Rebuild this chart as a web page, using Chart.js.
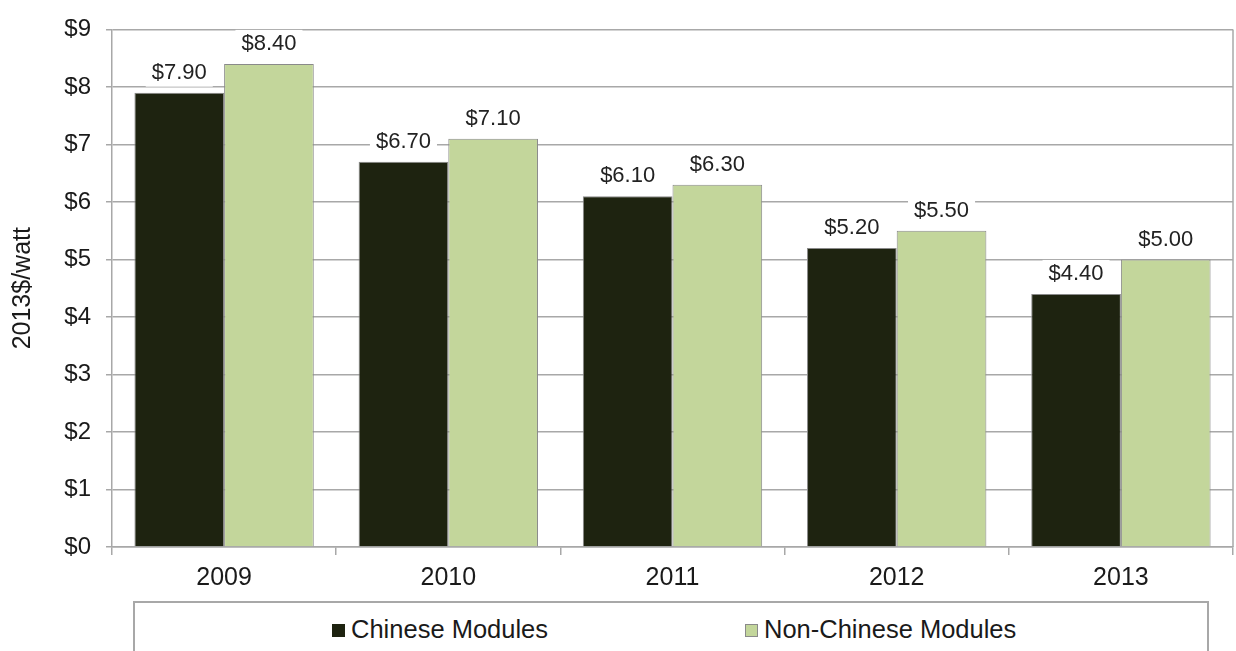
<!DOCTYPE html>
<html>
<head>
    <title>Module Prices</title>
    <script src="https://cdn.jsdelivr.net/npm/chart.js"></script>
    <style>
        body { margin: 0; background: #fff; font-family: 'Liberation Sans', Arial, sans-serif; }
        .wrap { position: relative; width: 1236px; height: 651px; overflow: hidden; }
        .legend {
            position: absolute;
            left: 133px; top: 601px;
            width: 1072px; height: 70px;
            border: 2px solid #a8a8a8;
            background: #fff;
        }
        .legend-item { position: absolute; top: 12px; font-size: 25.5px; color: #1a1a1a; white-space: nowrap; }
        .legend-item .swatch {
            display: inline-block; width: 13px; height: 13px;
            margin-right: 6px; vertical-align: 1px;
            box-sizing: border-box; border: 1px solid #8a8a8a;
        }
    </style>
</head>
<body>
    <div class="wrap">
        <canvas id="priceChart" width="1236" height="651"></canvas>
        <div class="legend" id="legend"></div>
    </div>

    <script>
        // Module prices by year (2013 dollars per watt)
        const years = ['2009', '2010', '2011', '2012', '2013'];
        const chineseModules = [7.90, 6.70, 6.10, 5.20, 4.40];
        const nonChineseModules = [8.40, 7.10, 6.30, 5.50, 5.00];
        const seriesNames = ['Chinese Modules', 'Non-Chinese Modules'];
        const seriesColors = ['#1e2310', '#c3d69b'];

        const FONT = "'Liberation Sans', Arial, sans-serif";
        const GRID = '#a8a8a8';

        // value labels on white boxes above each bar
        const barLabels = {
            id: 'barLabels',
            afterDatasetsDraw(chart) {
                const ctx = chart.ctx;
                ctx.save();
                ctx.font = '22px ' + FONT;
                ctx.textAlign = 'center';
                ctx.textBaseline = 'middle';
                chart.data.datasets.forEach((ds, i) => {
                    chart.getDatasetMeta(i).data.forEach((bar, j) => {
                        const txt = '$' + ds.data[j].toFixed(2);
                        const w = ctx.measureText(txt).width;
                        const cy = bar.y - 20;
                        ctx.fillStyle = '#fff';
                        ctx.fillRect(bar.x - w / 2 - 6, cy - 14, w + 12, 28);
                        ctx.fillStyle = '#222';
                        ctx.fillText(txt, bar.x, cy);
                    });
                });
                ctx.restore();
            }
        };

        // right-hand frame line of the plot area
        const rightFrame = {
            id: 'rightFrame',
            beforeDatasetsDraw(chart) {
                const { ctx, chartArea } = chart;
                ctx.save();
                ctx.strokeStyle = GRID;
                ctx.lineWidth = 1.5;
                ctx.beginPath();
                ctx.moveTo(chartArea.right, chartArea.top);
                ctx.lineTo(chartArea.right, chartArea.bottom);
                ctx.stroke();
                ctx.restore();
            }
        };

        const chart = new Chart(document.getElementById('priceChart'), {
            type: 'bar',
            data: {
                labels: years,
                datasets: [
                    { label: seriesNames[0], data: chineseModules, backgroundColor: seriesColors[0] },
                    { label: seriesNames[1], data: nonChineseModules, backgroundColor: seriesColors[1] }
                ]
            },
            options: {
                responsive: false,
                animation: false,
                layout: { padding: { top: 20, right: 3, left: 0, bottom: 0 } },
                datasets: {
                    bar: {
                        categoryPercentage: 0.8,
                        barPercentage: 1.0,
                        borderWidth: 1,
                        borderColor: '#8a8a8a'
                    }
                },
                plugins: {
                    legend: { display: false },
                    tooltip: { enabled: false }
                },
                scales: {
                    x: {
                        grid: { display: true, drawOnChartArea: false, color: GRID, lineWidth: 1.5, tickLength: 8 },
                        border: { color: GRID, width: 1.5 },
                        ticks: { color: '#1a1a1a', font: { family: FONT, size: 25 }, padding: 8 },
                        afterFit(scale) { scale.height = 104; }
                    },
                    y: {
                        min: 0,
                        max: 9,
                        grid: { color: GRID, lineWidth: 1.5, tickLength: 6 },
                        border: { color: GRID, width: 1.5 },
                        ticks: {
                            stepSize: 1,
                            color: '#1a1a1a',
                            font: { family: FONT, size: 24 },
                            padding: 15,
                            callback: v => '$' + v
                        },
                        title: {
                            display: true,
                            text: '2013$/watt',
                            color: '#1a1a1a',
                            font: { family: FONT, size: 25 },
                            padding: { top: 8, bottom: 0 }
                        },
                        afterFit(scale) { scale.width = 112; }
                    }
                }
            },
            plugins: [barLabels, rightFrame]
        });

        // boxed legend below the axis
        const legendEl = document.getElementById('legend');
        const legendLeft = [197, 610];
        chart.data.datasets.forEach((ds, i) => {
            const item = document.createElement('span');
            item.className = 'legend-item';
            item.style.left = legendLeft[i] + 'px';
            const sw = document.createElement('span');
            sw.className = 'swatch';
            sw.style.background = ds.backgroundColor;
            if (i === 0) sw.style.borderColor = ds.backgroundColor;
            item.appendChild(sw);
            item.appendChild(document.createTextNode(ds.label));
            legendEl.appendChild(item);
        });
    </script>
</body>
</html>
